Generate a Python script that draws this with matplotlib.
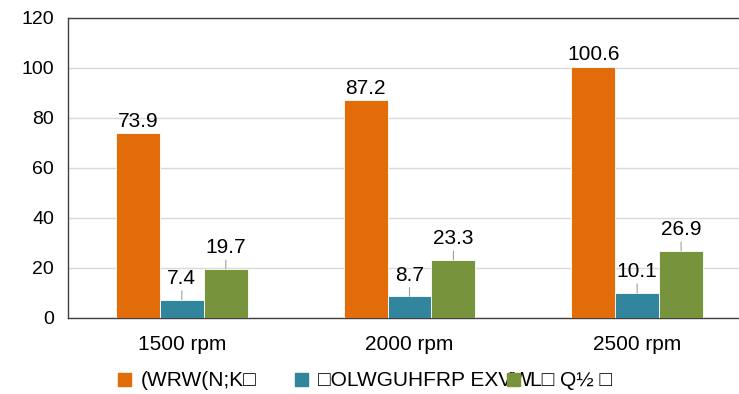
import matplotlib.pyplot as plt
import numpy as np
from matplotlib.patches import Patch

plt.rcParams['font.family'] = ['Liberation Sans', 'DejaVu Sans']

# data
categories = ["1500 rpm", "2000 rpm", "2500 rpm"]
series_names = ["(WRW(N;K\u25a1", "\u25a1OLWGUHFRP EXVW", "L\u25a1 Q\u00bd \u25a1"]
vals_orange = [73.9, 87.2, 100.6]
vals_teal = [7.4, 8.7, 10.1]
vals_green = [19.7, 23.3, 26.9]
colors = ["#E36C0A", "#31859C", "#77933C"]

fig = plt.figure(figsize=(7.39, 3.94), dpi=100)
ax = fig.add_axes([68/739, 1-318/394, (751-68)/739, 300/394])

x = np.arange(len(categories))
w = 0.193
series = [vals_orange, vals_teal, vals_green]
for i, vals in enumerate(series):
    xs = x + (i - 1) * w
    ax.bar(xs, vals, width=w, color=colors[i], edgecolor="white", linewidth=0.6, zorder=3)
    for xx, v in zip(xs, vals):
        if i == 0:
            ax.text(xx, v + 1.0, f"{v:.1f}", ha="center", va="bottom", fontsize=15, zorder=4)
        else:
            ax.annotate(f"{v:.1f}", xy=(xx, v), xytext=(xx, v + 4.6),
                        ha="center", va="bottom", fontsize=15, zorder=4,
                        arrowprops=dict(arrowstyle="-", color="#a0a0a0", lw=0.8,
                                        shrinkA=0, shrinkB=0))

ax.set_xlim(-0.5, 2.5)
ax.set_ylim(0, 120)
ax.set_yticks(np.arange(0, 121, 20))
ax.set_xticks(x)
ax.set_xticklabels(categories, fontsize=15)
ax.tick_params(axis="both", length=0)
ax.tick_params(axis="y", labelsize=14, pad=10)
ax.tick_params(axis="x", pad=12)
ax.yaxis.grid(True, color="#d9d9d9", lw=1, zorder=0)
for s in ["left", "bottom", "top"]:
    ax.spines[s].set_color("#404040")
    ax.spines[s].set_linewidth(1)
ax.spines["right"].set_visible(False)

# legend entries, one per series
leg_x = [118, 295, 507]
for c, name, lx in zip(colors, series_names, leg_x):
    fig.legend([Patch(color=c)], [name], loc="center left",
               bbox_to_anchor=(lx/739, 1-381/394), frameon=False, fontsize=15,
               handlelength=0.6, handleheight=0.6, handletextpad=0.5,
               borderaxespad=0, borderpad=0)

fig.savefig("out.png", dpi=100)
